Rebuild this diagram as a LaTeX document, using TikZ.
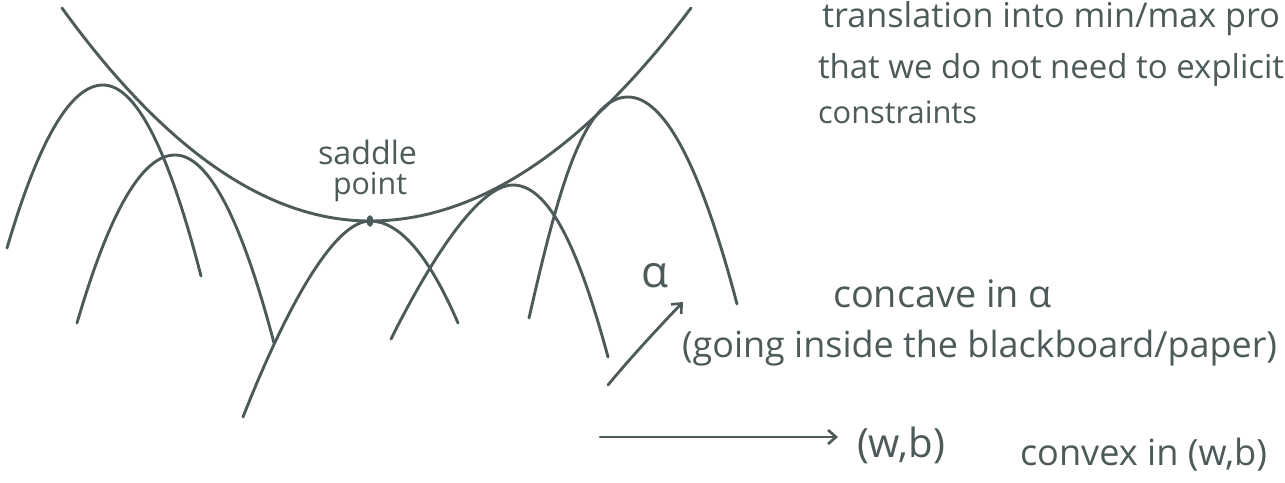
\documentclass[tikz,border=0pt]{standalone}
\usepackage{graphicx}
\usepackage{fontspec}
\setmainfont{Open Sans}
\usetikzlibrary{arrows.meta}
\definecolor{ink}{HTML}{4C5A59}
\newcommand{\hw}[2]{\resizebox{#1pt}{!}{#2}}
\begin{document}
\begin{tikzpicture}[x=1pt,y=-1pt,
  curve/.style={draw=ink, line width=2.9pt, line cap=round, line join=round},
  lbl/.style={anchor=base west, inner sep=0pt, outer sep=0pt, text=ink},
  arr/.style={draw=ink, line width=2.8pt, line cap=round,
    -{Straight Barb[length=8pt,width=14pt,line width=2.6pt]}}]
\useasboundingbox (0,0) rectangle (1285,482);
% convex envelope
\draw[curve] (62,8) .. controls (164.7,150) and (267.3,221) .. (370,221) .. controls (477.3,221) and (584.3,150) .. (691,8);
% concave parabolas
\draw[curve] (7,248) .. controls (39,139.3) and (71,85) .. (103,85) .. controls (135.7,85) and (168.3,148.7) .. (201,276);
\draw[curve] (77,323) .. controls (109.7,211) and (142.3,155) .. (175,155) .. controls (208,155) and (241,217.7) .. (274,343);
\draw[curve] (243,417) .. controls (274,338) and (328,221) .. (370,221) .. controls (399.3,221) and (428.7,255) .. (458,323);
\draw[curve] (391,339) .. controls (418,285) and (473,185) .. (513,185) .. controls (553,185) and (583,265) .. (608,357);
\draw[curve] (529,318) .. controls (558,191) and (583,97) .. (628,97) .. controls (664.3,97) and (700.7,166) .. (737,304);
% saddle point
\fill[ink] (370,221) ellipse [x radius=3.4pt, y radius=5.8pt];
\node[lbl] (s1) at (318,164) {\hw{99}{saddle}};
\node[lbl] (s2) at (333,194) {\hw{74}{point}};
% top text
\node[lbl] (t1) at (822,27) {\hw{458}{translation into min/max pro}};
\node[lbl] (t2) at (818,78) {\hw{466}{that we do not need to explicit}};
\node[lbl] (t3) at (818,123) {\hw{159}{constraints}};
% alpha arrow
\coordinate (a0) at (608,385);
\coordinate (a1) at (683,302);
\draw[arr] (a0) .. controls (632,356) and (660,326) .. (a1);
\node[anchor=center, inner sep=0pt, text=ink] (al) at (655,276) {\hw{27}{α}};
\node[lbl] (cc) at (833,307) {\hw{219}{concave in α}};
\node[lbl] (gi) at (682,357) {\hw{595}{(going inside the blackboard/paper)}};
% (w,b) arrow
\coordinate (h0) at (600,437);
\coordinate (h1) at (838,437);
\draw[arr] (h0) -- (h1);
\node[lbl] (wb) at (857,457) {\hw{88}{(w,b)}};
\node[lbl] (cv) at (1020,465) {\hw{247}{convex in (w,b)}};
\end{tikzpicture}
\end{document}
